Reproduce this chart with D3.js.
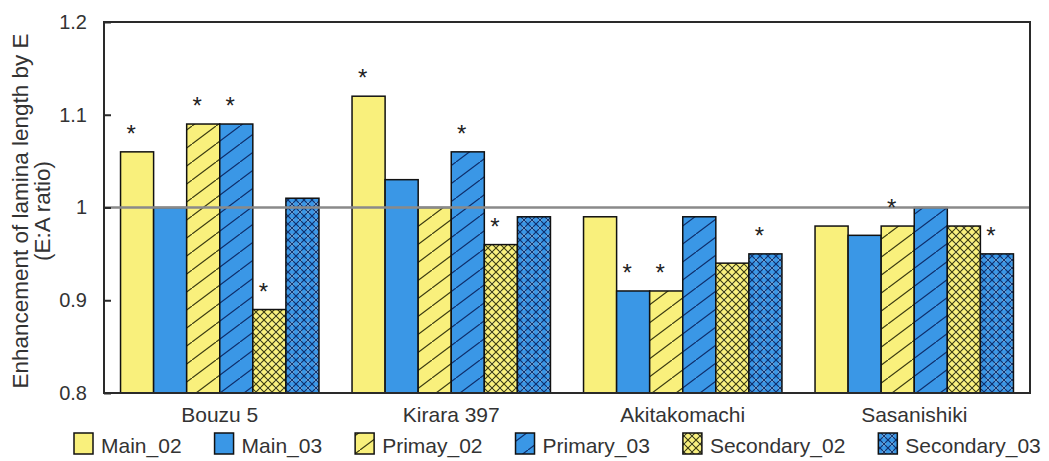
<!DOCTYPE html>
<html>
<head>
<meta charset="utf-8">
<script src="https://cdn.jsdelivr.net/npm/d3@7"></script>
<style>
  html, body { margin: 0; padding: 0; background: #fff; }
  svg { display: block; font-family: "Liberation Sans", Arial, sans-serif; }
</style>
</head>
<body>
<svg id="chart" width="1049" height="461"></svg>
<script>
// Cultivars on the x axis
const cultivars = ["Bouzu 5", "Kirara 397", "Akitakomachi", "Sasanishiki"];
// Tiller / leaf series shown for each cultivar
const seriesNames = ["Main_02", "Main_03", "Primay_02", "Primary_03", "Secondary_02", "Secondary_03"];
// E:A ratio per series, one entry per cultivar
const main02      = [1.06, 1.12, 0.99, 0.98];
const main03      = [1.00, 1.03, 0.91, 0.97];
const primary02   = [1.09, 1.00, 0.91, 0.98];
const primary03   = [1.09, 1.06, 0.99, 1.00];
const secondary02 = [0.89, 0.96, 0.94, 0.98];
const secondary03 = [1.01, 0.99, 0.95, 0.95];
// Significant difference markers (1 = asterisk drawn above the bar)
const sig_main02      = [1, 1, 0, 0];
const sig_main03      = [0, 0, 1, 0];
const sig_primary02   = [1, 0, 1, 1];
const sig_primary03   = [1, 1, 0, 0];
const sig_secondary02 = [1, 1, 0, 0];
const sig_secondary03 = [0, 0, 1, 1];
// Y axis ticks
const yTicks = [0.8, 0.9, 1.0, 1.1, 1.2];
const yTickLabels = ["0.8", "0.9", "1", "1.1", "1.2"];

const values = [main02, main03, primary02, primary03, secondary02, secondary03];
const sigs = [sig_main02, sig_main03, sig_primary02, sig_primary03, sig_secondary02, sig_secondary03];

const YELLOW = "#f9f07c";
const BLUE = "#3a97e6";
const styles = [
  { base: YELLOW, pat: null },
  { base: BLUE, pat: null },
  { base: YELLOW, pat: "diag", line: "#3a3a10" },
  { base: BLUE, pat: "diag", line: "#0d2d6a" },
  { base: YELLOW, pat: "cross", line: "#3a3a10", dot: "#fffbb0" },
  { base: BLUE, pat: "cross", line: "#0d2d6a", dot: "#8cc8f5" }
];

const svg = d3.select("#chart");
const defs = svg.append("defs");

// Fill patterns: diagonal hatch and diamond cross-hatch
styles.forEach((s, i) => {
  if (!s.pat) return;
  if (s.pat === "diag") {
    const p = defs.append("pattern").attr("id", "pat" + i)
      .attr("patternUnits", "userSpaceOnUse").attr("width", 24).attr("height", 18);
    p.append("rect").attr("width", 24).attr("height", 18).attr("fill", s.base);
    p.append("line").attr("x1", -1).attr("y1", 18.75).attr("x2", 25).attr("y2", -0.75)
      .attr("stroke", s.line).attr("stroke-width", 1.2);
  } else {
    const p = defs.append("pattern").attr("id", "pat" + i)
      .attr("patternUnits", "userSpaceOnUse").attr("width", 8).attr("height", 8);
    p.append("rect").attr("width", 8).attr("height", 8).attr("fill", s.base);
    p.append("circle").attr("cx", 4).attr("cy", 4).attr("r", 2.2).attr("fill", s.dot);
    p.append("path").attr("d", "M0,0L8,8M8,0L0,8")
      .attr("stroke", s.line).attr("stroke-width", 1.1).attr("fill", "none");
  }
});
const fillOf = i => styles[i].pat ? `url(#pat${i})` : styles[i].base;

const plotLeft = 104, plotRight = 1030, plotTop = 22, plotBottom = 393;

const x0 = d3.scaleBand().domain(cultivars).range([plotLeft, plotRight]).padding(0);
const x1 = d3.scaleBand().domain(seriesNames).range([0, x0.bandwidth()])
  .paddingInner(0).paddingOuter(0.5);
const y = d3.scaleLinear().domain([0.8, 1.2]).range([plotBottom, plotTop]);

// Bars
const bars = [];
cultivars.forEach((c, ci) => {
  seriesNames.forEach((s, si) => {
    bars.push({ c, s, si, v: values[si][ci], sig: sigs[si][ci] });
  });
});

svg.append("g").selectAll("rect").data(bars).join("rect")
  .attr("x", d => x0(d.c) + x1(d.s))
  .attr("y", d => y(d.v))
  .attr("width", x1.bandwidth())
  .attr("height", d => y(0.8) - y(d.v))
  .attr("fill", d => fillOf(d.si))
  .attr("stroke", "#111")
  .attr("stroke-width", 1.5);

// Reference line at ratio 1
svg.append("line")
  .attr("x1", plotLeft).attr("x2", plotRight)
  .attr("y1", y(1)).attr("y2", y(1))
  .attr("stroke", "#8a8a8a").attr("stroke-width", 2.5);

// Significance asterisks
svg.append("g").selectAll("text").data(bars.filter(d => d.sig)).join("text")
  .attr("x", d => x0(d.c) + x1(d.s) + x1.bandwidth() / 2 - 6)
  .attr("y", d => y(d.v) - 10)
  .attr("text-anchor", "middle")
  .attr("font-size", 24)
  .attr("fill", "#222")
  .text("*");

// Plot frame
svg.append("rect")
  .attr("x", plotLeft).attr("y", plotTop)
  .attr("width", plotRight - plotLeft).attr("height", plotBottom - plotTop)
  .attr("fill", "none").attr("stroke", "#2a2a2a").attr("stroke-width", 2);

// Y axis with inward ticks
const yAxis = d3.axisLeft(y).tickValues(yTicks)
  .tickFormat((d, i) => yTickLabels[i])
  .tickSizeInner(-7).tickSizeOuter(0).tickPadding(17);
const gy = svg.append("g").attr("transform", `translate(${plotLeft},0)`).call(yAxis);
gy.select(".domain").remove();
gy.selectAll(".tick line").attr("stroke", "#2a2a2a").attr("stroke-width", 2);
gy.selectAll(".tick text").attr("font-size", 20).attr("fill", "#333")
  .attr("font-family", "Liberation Sans, Arial, sans-serif");

// Category labels
const xAxis = d3.axisBottom(x0).tickSize(0).tickPadding(14);
const gx = svg.append("g").attr("transform", `translate(0,${plotBottom})`).call(xAxis);
gx.select(".domain").remove();
gx.selectAll(".tick text").attr("font-size", 21).attr("fill", "#333")
  .attr("font-family", "Liberation Sans, Arial, sans-serif");

// Y axis title
const title = svg.append("text")
  .attr("transform", `translate(28,211) rotate(-90)`)
  .attr("text-anchor", "middle").attr("font-size", 22.5).attr("fill", "#333");
title.append("tspan").attr("x", 0).attr("dy", 0).text("Enhancement of lamina length by E");
title.append("tspan").attr("x", 0).attr("dy", 22).text("(E:A ratio)");

// Legend
const legend = svg.append("g");
let lx = 74;
seriesNames.forEach((s, i) => {
  legend.append("rect")
    .attr("x", lx).attr("y", 433).attr("width", 19).attr("height", 21)
    .attr("fill", fillOf(i)).attr("stroke", "#111").attr("stroke-width", 1.5);
  const t = legend.append("text")
    .attr("x", lx + 27).attr("y", 453)
    .attr("font-size", 21).attr("fill", "#333").text(s);
  lx += 27 + t.node().getComputedTextLength() + 33;
});
</script>
</body>
</html>
